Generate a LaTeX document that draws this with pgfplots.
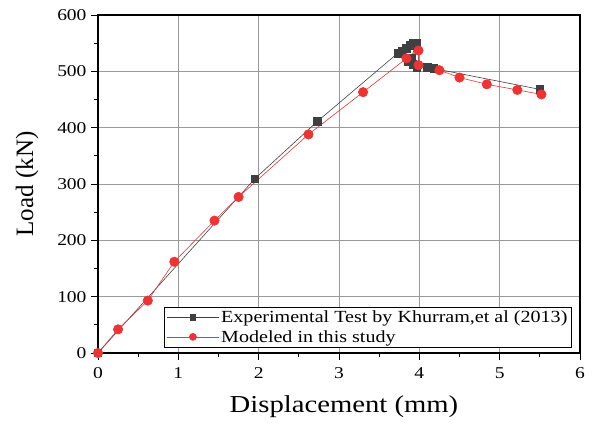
\documentclass[border=0pt]{standalone}
\usepackage{pgfplots}
\pgfplotsset{compat=1.18}
\usepackage{fontspec}
\setmainfont{Liberation Serif}
\newfontfamily\widefont[FakeStretch=1.18]{Liberation Serif}
\definecolor{expgray}{HTML}{404040}
\definecolor{modred}{HTML}{EE3333}
\begin{document}
\begin{tikzpicture}
\begin{axis}[
  scale only axis,
  width=482pt, height=338pt,
  xmin=0, xmax=6, ymin=0, ymax=600,
  xtick={0,1,...,6}, ytick={0,100,...,600},
  minor x tick num=1, minor y tick num=1,
  tick align=outside,
  major tick length=7pt, minor tick length=4pt,
  xtick pos=bottom, ytick pos=left,
  grid=major,
  major grid style={draw=black!40, line width=0.8pt},
  axis line style={line width=1.1pt},
  every tick/.style={black, line width=0.9pt},
  xticklabel={\pgfmathprintnumber[assume math mode=true]{\tick}},
  yticklabel={\pgfmathprintnumber[assume math mode=true]{\tick}},
  tick label style={font=\widefont\fontsize{16.5}{16.5}\selectfont},
  xticklabel style={yshift=-4pt},
  yticklabel style={xshift=-1pt},
  xlabel={Displacement (mm)},
  ylabel={Load (kN)},
  xlabel style={font=\widefont\fontsize{24.3}{25}\selectfont, yshift=-10pt, xshift=5pt},
  ylabel style={font=\fontsize{25}{25}\selectfont, yshift=12pt},
  legend style={at={(0.983,0.015)}, anchor=south east,
    font=\widefont\fontsize{17}{19}\selectfont, draw=black, line width=0.8pt,
    row sep=2pt, inner xsep=2pt, inner ysep=2pt},
  legend cell align=left,
  legend image code/.code={
    \draw[mark repeat=2, mark phase=2, line width=0.6pt,
      every mark/.append style={scale=0.75}]
      plot coordinates {(0pt,0pt) (26pt,0pt) (52pt,0pt)};},
]
\addplot[color=expgray, line width=0.6pt, mark=square*, mark size=3.8pt,
  mark options={fill=expgray, draw=expgray}] coordinates {
  (0,0) (1.95,309) (2.73,411) (3.73,532) (3.78,536) (3.84,541) (3.88,546)
  (3.92,550) (3.96,550) (3.90,523) (3.86,518) (3.92,512) (3.97,506)
  (4.10,507) (4.18,505) (5.50,468)
};
\addlegendentry{Experimental Test by Khurram,et al (2013)}
\addplot[color=modred, line width=0.6pt, mark=*, mark size=4.7pt,
  mark options={fill=modred, draw=modred}] coordinates {
  (0,0) (0.25,42) (0.62,93) (0.95,162) (1.45,235) (1.75,277) (2.62,388)
  (3.30,463) (3.84,523) (3.99,537) (3.99,511) (4.25,502) (4.50,489)
  (4.84,477) (5.22,467) (5.52,459)
};
\addlegendentry{Modeled in this study}
\end{axis}
\pgfresetboundingbox
\path[use as bounding box] ([shift={(-98pt,-72pt)}]current axis.south west)
  rectangle ([shift={(12pt,15pt)}]current axis.north east);
\end{tikzpicture}
\end{document}
